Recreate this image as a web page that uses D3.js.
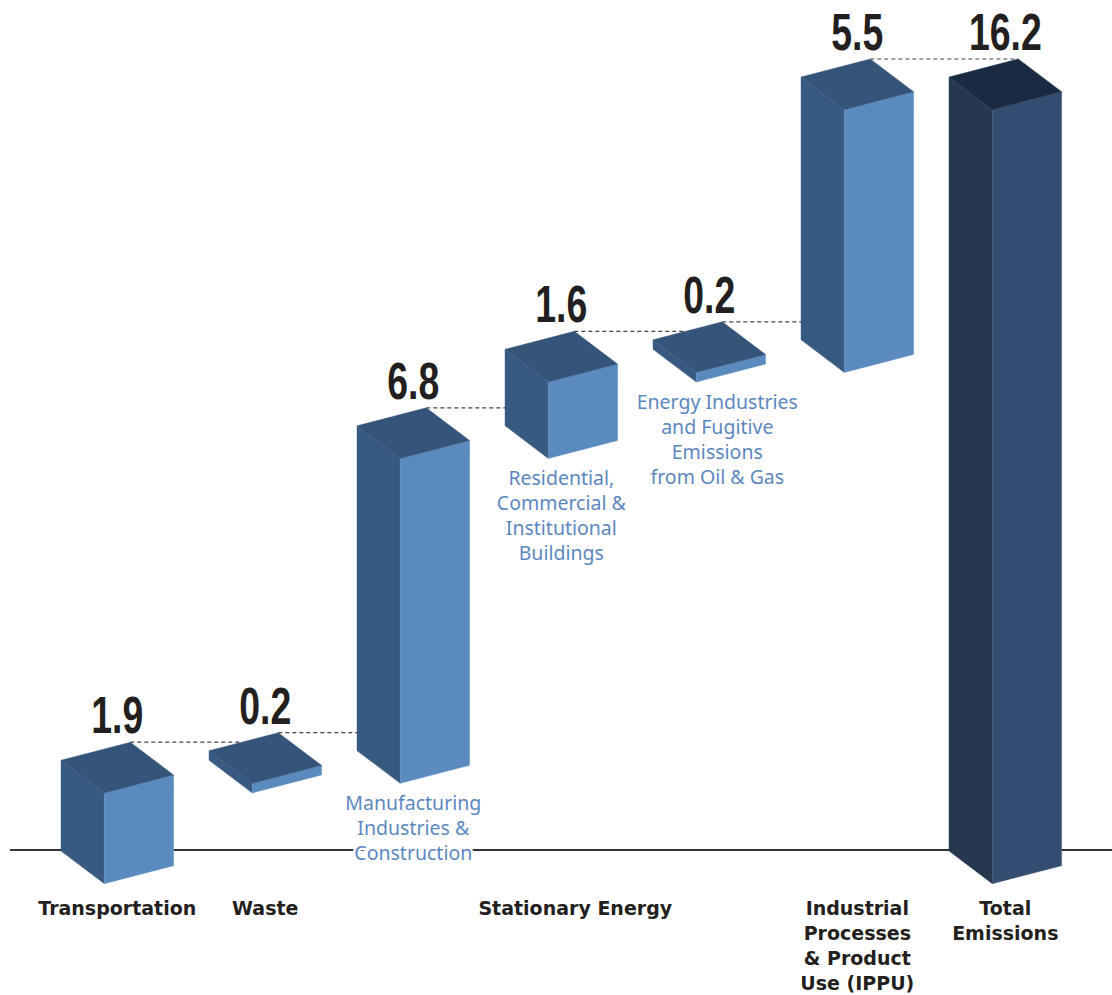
<!DOCTYPE html>
<html>
<head>
<meta charset="utf-8">
<script src="https://cdn.jsdelivr.net/npm/d3@7"></script>
<style>
  html, body { margin: 0; padding: 0; background: #ffffff; }
  svg { display: block; }
</style>
</head>
<body>
<svg id="chart" width="1112" height="995"></svg>
<script>
// Emission sources, in waterfall order (last entry is the total)
const categories = [
  "Transportation",
  "Waste",
  "Manufacturing Industries & Construction",
  "Residential, Commercial & Institutional Buildings",
  "Energy Industries and Fugitive Emissions from Oil & Gas",
  "Industrial Processes & Product Use (IPPU)",
  "Total Emissions"
];
const values = [1.9, 0.2, 6.8, 1.6, 0.2, 5.5, 16.2];
const valueLabels = ["1.9", "0.2", "6.8", "1.6", "0.2", "5.5", "16.2"];

// Light-blue sub-sector captions under the stationary energy blocks
const subLabelLines = [
  null,
  null,
  ["Manufacturing", "Industries &", "Construction"],
  ["Residential,", "Commercial &", "Institutional", "Buildings"],
  ["Energy Industries", "and Fugitive", "Emissions", "from Oil & Gas"],
  null,
  null
];

// Sector captions along the baseline and the blocks each one spans
const sectorLines = [
  ["Transportation"],
  ["Waste"],
  ["Stationary Energy"],
  ["Industrial", "Processes", "& Product", "Use (IPPU)"],
  ["Total", "Emissions"]
];
const sectorMembers = [[0], [1], [2, 3, 4], [5], [6]];

const svg = d3.select("#chart");

// Box projection: offsets from the left corner of a face outline
const FRONT = { dx: 43.3, dy: 32.7 };   // left corner -> front corner
const BACK  = { dx: 69.3, dy: -18.0 };  // left corner -> back corner
const boxW = FRONT.dx + BACK.dx;

// Waterfall bases
const bases = [];
let running = 0;
values.forEach((v, i) => {
  if (i === values.length - 1) { bases.push(0); }
  else { bases.push(running); running += v; }
});

const x = d3.scalePoint().domain(categories).range([61, 949]);
const y = d3.scaleLinear().domain([0, 16.2]).range([851, 77]);

const palette = {
  normal: { top: "#34547a", left: "#385a81", right: "#5b8abf" },
  total:  { top: "#1b2a43", left: "#26384f", right: "#344c6f" }
};

// Baseline, broken where the grounded blocks stand in front of it
const grounded = categories.filter((c, i) => bases[i] === 0).map(c => x(c));
const baseSegments = [];
let from = 10;
grounded.forEach(xl => { baseSegments.push([from, xl]); from = xl + boxW; });
baseSegments.push([from, 1112]);
svg.append("g").selectAll("line").data(baseSegments).join("line")
  .attr("x1", d => d[0]).attr("x2", d => d[1])
  .attr("y1", 850).attr("y2", 850)
  .attr("stroke", "#333333").attr("stroke-width", 2);

// Connectors: from each block's top back corner across to the next block
const connectors = svg.append("g");
categories.forEach((c, i) => {
  if (i === categories.length - 1) return;
  const level = bases[i] + values[i];
  const yy = y(level) + BACK.dy;
  const next = categories[i + 1];
  const xlNext = x(next);
  // where the level line meets the outline of the next block
  const nextTopLeft = y(bases[i + 1] + values[i + 1]);
  let xEnd = xlNext;
  if (nextTopLeft > yy) {
    const f = (nextTopLeft - yy) / -BACK.dy;
    xEnd = xlNext + f * BACK.dx;
  }
  connectors.append("line")
    .attr("x1", x(c) + BACK.dx)
    .attr("x2", xEnd)
    .attr("y1", yy).attr("y2", yy)
    .attr("stroke", "#444444")
    .attr("stroke-width", 1.2)
    .attr("stroke-dasharray", "4,3");
});

// Blocks
const blocks = svg.append("g");
const pts = p => p.map(q => q.join(",")).join(" ");
categories.forEach((c, i) => {
  const col = i === categories.length - 1 ? palette.total : palette.normal;
  const xl = x(c);
  const yb = y(bases[i]);
  const yt = y(bases[i] + values[i]);
  const g = blocks.append("g");
  // left face
  g.append("polygon")
    .attr("points", pts([[xl, yt], [xl + FRONT.dx, yt + FRONT.dy],
                         [xl + FRONT.dx, yb + FRONT.dy], [xl, yb]]))
    .attr("fill", col.left).attr("stroke", col.left).attr("stroke-width", 0.4);
  // right face
  g.append("polygon")
    .attr("points", pts([[xl + FRONT.dx, yt + FRONT.dy], [xl + boxW, yt + FRONT.dy + BACK.dy],
                         [xl + boxW, yb + FRONT.dy + BACK.dy], [xl + FRONT.dx, yb + FRONT.dy]]))
    .attr("fill", col.right).attr("stroke", col.right).attr("stroke-width", 0.4);
  // top face
  g.append("polygon")
    .attr("points", pts([[xl, yt], [xl + BACK.dx, yt + BACK.dy],
                         [xl + boxW, yt + FRONT.dy + BACK.dy], [xl + FRONT.dx, yt + FRONT.dy]]))
    .attr("fill", col.top).attr("stroke", col.top).attr("stroke-width", 0.4);

  // value above the block
  svg.append("text")
    .attr("transform", `translate(${xl + boxW / 2},${yt + BACK.dy - 9}) scale(0.72,1)`)
    .attr("text-anchor", "middle")
    .attr("font-family", "'Liberation Sans', Arial, sans-serif")
    .attr("font-weight", 700)
    .attr("font-size", 52)
    .attr("fill", "#231f20")
    .text(valueLabels[i]);

  // sub-sector caption below the block (white halo keeps it clear of the baseline)
  if (subLabelLines[i]) {
    const t = svg.append("text")
      .attr("text-anchor", "middle")
      .attr("font-family", "'Noto Sans', sans-serif")
      .attr("font-size", 19.5)
      .attr("fill", "#5d87c0")
      .attr("stroke", "#ffffff")
      .attr("stroke-width", 5)
      .attr("stroke-linejoin", "round")
      .attr("paint-order", "stroke");
    subLabelLines[i].forEach((line, k) => {
      t.append("tspan")
        .attr("x", xl + boxW / 2 + (i === 4 ? 8 : 0))
        .attr("y", yb + FRONT.dy + 27 + k * 25)
        .text(line);
    });
  }
});

// Sector captions
sectorLines.forEach((lines, s) => {
  const members = sectorMembers[s];
  const cx = d3.mean(members, i => x(categories[i]) + boxW / 2) + (s === 2 ? 14 : 0);
  const t = svg.append("text")
    .attr("text-anchor", "middle")
    .attr("font-family", "'DejaVu Sans', sans-serif")
    .attr("font-weight", 700)
    .attr("font-size", 19)
    .attr("fill", "#231f20");
  lines.forEach((line, k) => {
    t.append("tspan").attr("x", cx).attr("y", 915 + k * 25).text(line);
  });
});
</script>
</body>
</html>
